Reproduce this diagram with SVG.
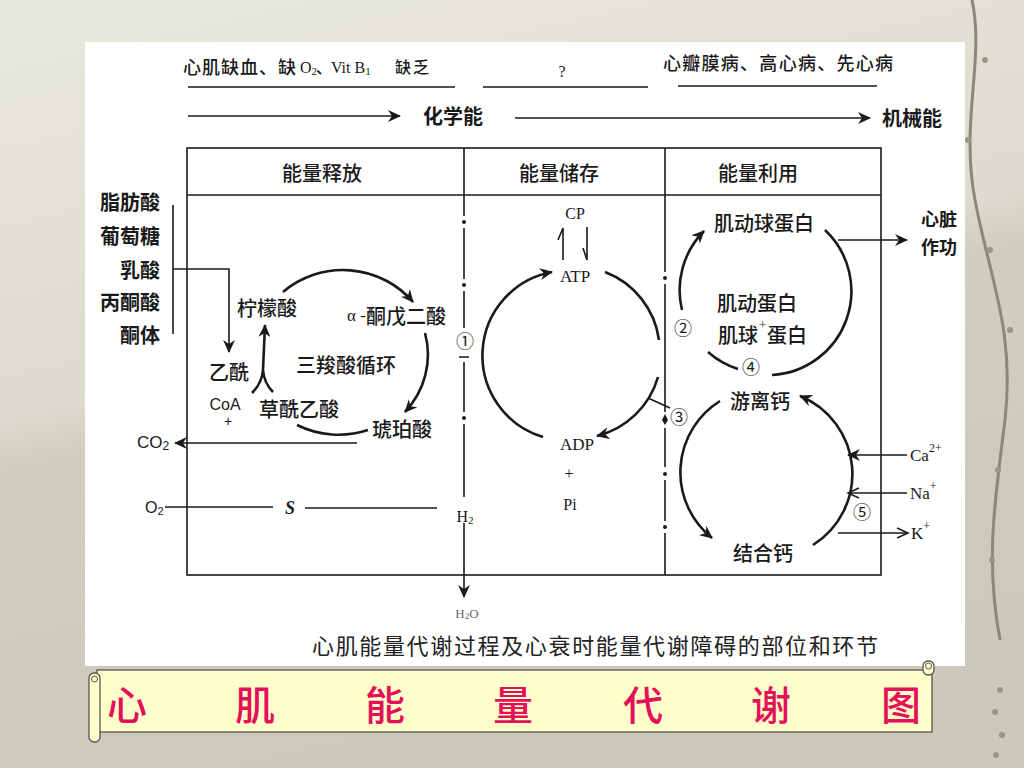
<svg xmlns="http://www.w3.org/2000/svg" width="1024" height="768" viewBox="0 0 1024 768">
<defs>
<style>
.cn{font-family:"Noto Sans CJK SC","Noto Sans",sans-serif;fill:#1a1a1a;dominant-baseline:central;font-weight:500;}
.lat{font-family:"Liberation Serif","Noto Sans CJK SC",serif;fill:#1a1a1a;dominant-baseline:central;}
.sans{font-family:"Liberation Sans","Noto Sans CJK SC",sans-serif;fill:#1a1a1a;dominant-baseline:central;}
.b{font-weight:bold;}
.ln{stroke:#1a1a1a;stroke-width:1.6;fill:none;}
.arc{stroke:#1a1a1a;stroke-width:2.6;fill:none;}
.dd{stroke:#1a1a1a;stroke-width:1.6;fill:none;}
.dot{fill:#1a1a1a;}
.ban{font-family:"Noto Sans CJK SC",sans-serif;fill:#e5105a;font-size:40px;text-anchor:middle;dominant-baseline:central;font-weight:500;}
</style>
<marker id="arr" markerUnits="userSpaceOnUse" markerWidth="14" markerHeight="12" refX="12" refY="6" orient="auto">
<path d="M0,0 L13,6 L0,12 L4,6 Z" fill="#1a1a1a"/>
</marker>
<marker id="opn" markerUnits="userSpaceOnUse" markerWidth="14" markerHeight="12" refX="12" refY="6" orient="auto">
<path d="M1,1 L12,6 L1,11" fill="none" stroke="#1a1a1a" stroke-width="1.5"/>
</marker>
<linearGradient id="bg" x1="0" y1="0" x2="0.3" y2="1">
<stop offset="0" stop-color="#e9e8de"/>
<stop offset="0.5" stop-color="#dddbcf"/>
<stop offset="0.56" stop-color="#d0cec0"/>
<stop offset="1" stop-color="#cbc9bb"/>
</linearGradient>
</defs>

<!-- background -->
<rect x="0" y="0" width="1024" height="768" fill="url(#bg)"/>
<path d="M972,0 C985,60 960,120 975,200 C990,280 1015,330 1005,420 C995,500 985,560 1000,640" fill="none" stroke="#8c8778" stroke-width="3"/>
<g fill="#9a9584">
<circle cx="985" cy="60" r="3"/><circle cx="968" cy="140" r="3"/><circle cx="990" cy="250" r="3"/>
<circle cx="1010" cy="330" r="3"/><circle cx="998" cy="470" r="3"/><circle cx="992" cy="560" r="3"/>
<circle cx="1000" cy="690" r="3"/><circle cx="995" cy="712" r="3"/><circle cx="1002" cy="735" r="3"/><circle cx="996" cy="755" r="3"/>
</g>

<!-- white panel -->
<rect x="85" y="42" width="880" height="624" fill="#ffffff"/>

<!-- frame -->
<g id="frame">
<rect x="187" y="148" width="694" height="427" class="ln" stroke-width="2"/>
<line x1="187" y1="195" x2="881" y2="195" class="ln" stroke-width="2"/>
<line x1="464" y1="148" x2="464" y2="195" class="ln"/>
<line x1="665" y1="148" x2="665" y2="195" class="ln"/>
</g>

<!-- top texts -->
<g id="cause-left">
<text class="cn" x="183" y="66" font-size="18" letter-spacing="1">心肌缺血、缺</text>
<text class="lat" x="300" y="67" font-size="16">O<tspan font-size="11" dy="4">2</tspan></text>
<text class="cn" x="316" y="66" font-size="16">、</text>
<text class="lat" x="331" y="67" font-size="16">Vit B<tspan font-size="11" dy="4">1</tspan></text>
<text class="cn" x="395" y="66" font-size="16" letter-spacing="2">缺乏</text>
</g>
<g id="cause-mid"><text class="lat" x="562" y="71" font-size="16" text-anchor="middle">?</text></g>
<g id="cause-right"><text class="cn" x="663" y="62" font-size="18" textLength="230">心瓣膜病、高心病、先心病</text></g>
<g id="chem"><text class="cn b" x="453" y="115" font-size="20" text-anchor="middle">化学能</text></g>
<g id="mech"><text class="cn b" x="912" y="117" font-size="20" text-anchor="middle">机械能</text></g>

<!-- headers -->
<g id="h1"><text class="cn" x="322" y="172" font-size="20" text-anchor="middle">能量释放</text></g>
<g id="h2"><text class="cn" x="559" y="172" font-size="20" text-anchor="middle">能量储存</text></g>
<g id="h3"><text class="cn" x="758" y="172" font-size="20" text-anchor="middle">能量利用</text></g>

<!-- substrates -->
<g id="substrates">
<text class="cn b" x="160" y="201" font-size="20" text-anchor="end">脂肪酸</text>
<text class="cn b" x="160" y="235" font-size="20" text-anchor="end">葡萄糖</text>
<text class="cn b" x="160" y="269" font-size="20" text-anchor="end">乳酸</text>
<text class="cn b" x="160" y="301" font-size="20" text-anchor="end">丙酮酸</text>
<text class="cn b" x="160" y="334" font-size="20" text-anchor="end">酮体</text>
</g>

<!-- TCA nodes -->
<g id="citrate"><text class="cn" x="267" y="307" font-size="20" text-anchor="middle">柠檬酸</text></g>
<g id="akg"><text class="lat" x="347" y="315" font-size="17">α -</text><text class="cn" x="366" y="315" font-size="20">酮戊二酸</text></g>
<g id="tca"><text class="cn" x="346" y="364" font-size="20" text-anchor="middle">三羧酸循环</text></g>
<g id="acetyl"><text class="cn" x="229" y="371" font-size="20" text-anchor="middle">乙酰</text></g>
<g id="coa"><text class="sans" x="225" y="404" font-size="16" text-anchor="middle">CoA</text><text class="sans" x="228" y="421" font-size="14" text-anchor="middle">+</text></g>
<g id="oaa"><text class="cn" x="299" y="408" font-size="20" text-anchor="middle">草酰乙酸</text></g>
<g id="succ"><text class="cn" x="402" y="428" font-size="20" text-anchor="middle">琥珀酸</text></g>
<g id="co2"><text class="sans" x="137" y="442" font-size="17">CO<tspan font-size="12" dy="4">2</tspan></text></g>
<g id="o2"><text class="sans" x="145" y="507" font-size="16">O<tspan font-size="11" dy="4">2</tspan></text></g>
<g id="s"><text class="lat b" x="290" y="508" font-size="18" font-style="italic" text-anchor="middle">S</text></g>
<g id="h2"><text class="lat" x="465" y="516" font-size="16" text-anchor="middle">H<tspan font-size="11" dy="4">2</tspan></text></g>
<g id="h2o"><text class="lat" x="467" y="613" font-size="13" text-anchor="middle" style="fill:#666">H<tspan font-size="9" dy="3">2</tspan><tspan dy="-3">O</tspan></text></g>
<g id="m1"><text class="lat" x="465" y="342" font-size="18" text-anchor="middle">①</text></g>

<!-- ATP nodes -->
<g id="cp"><text class="lat" x="575" y="213" font-size="16" text-anchor="middle">CP</text></g>
<g id="atp"><text class="lat" x="575" y="276" font-size="17" text-anchor="middle">ATP</text></g>
<g id="adp"><text class="lat" x="577" y="444" font-size="17" text-anchor="middle">ADP</text></g>
<g id="plus"><text class="lat" x="569" y="473" font-size="16" text-anchor="middle">+</text></g>
<g id="pi"><text class="lat" x="570" y="504" font-size="16" text-anchor="middle">Pi</text></g>
<g id="m2"><text class="lat" x="683" y="329" font-size="18" text-anchor="middle">②</text></g>
<g id="m3"><text class="lat" x="679" y="418" font-size="18" text-anchor="middle">③</text></g>

<!-- utilisation nodes -->
<g id="actomyosin"><text class="cn" x="764" y="222" font-size="20" text-anchor="middle">肌动球蛋白</text></g>
<g id="heart"><text class="cn b" x="939" y="218" font-size="18" text-anchor="middle">心脏</text><text class="cn b" x="939" y="246" font-size="18" text-anchor="middle">作功</text></g>
<g id="actin"><text class="cn" x="757" y="302" font-size="20" text-anchor="middle">肌动蛋白</text></g>
<g id="myosin"><text class="cn" x="718" y="334" font-size="20">肌球</text><text class="lat" x="759" y="324" font-size="13">+</text><text class="cn" x="767" y="334" font-size="20">蛋白</text></g>
<g id="m4"><text class="lat" x="751" y="368" font-size="18" text-anchor="middle">④</text></g>
<g id="freeca"><text class="cn" x="760" y="400" font-size="20" text-anchor="middle">游离钙</text></g>
<g id="boundca"><text class="cn" x="763" y="552" font-size="20" text-anchor="middle">结合钙</text></g>
<g id="ca"><text class="lat" x="910" y="455" font-size="17">Ca<tspan font-size="12" dy="-7">2+</tspan></text></g>
<g id="na"><text class="lat" x="910" y="493" font-size="17">Na<tspan font-size="12" dy="-7">+</tspan></text></g>
<g id="k"><text class="lat" x="911" y="533" font-size="17">K<tspan font-size="12" dy="-7">+</tspan></text></g>
<g id="m5"><text class="lat" x="862" y="513" font-size="18" text-anchor="middle">⑤</text></g>

<!-- caption -->
<g id="caption"><text class="cn" x="312" y="644" font-size="22" textLength="566" style="fill:#222;font-weight:normal">心肌能量代谢过程及心衰时能量代谢障碍的部位和环节</text></g>

<!-- connectors -->
<g id="connectors">
<line x1="188" y1="87" x2="455" y2="87" class="ln"/>
<line x1="483" y1="87" x2="648" y2="87" class="ln"/>
<line x1="678" y1="86" x2="877" y2="86" class="ln"/>
<line x1="188" y1="116" x2="400" y2="116" class="ln" marker-end="url(#arr)"/>
<line x1="515" y1="118" x2="870" y2="118" class="ln" marker-end="url(#arr)"/>
<line x1="173" y1="205" x2="173" y2="334" class="ln"/>
<path d="M173,269 H229 V352" class="ln" marker-end="url(#arr)"/>
<path d="M283,292 A90,86 0 0,1 413,302" class="arc" marker-end="url(#arr)"/>
<path d="M425,333 A90,86 0 0,1 405,412" class="arc" marker-end="url(#arr)"/>
<path d="M368,430 A90,86 0 0,1 297,425" class="arc"/>
<path d="M252,393 Q262,383 263,370 M273,392 Q264,383 263,370 L265,325" class="arc" marker-end="url(#arr)"/>
<line x1="357" y1="443" x2="175" y2="443" class="ln" marker-end="url(#arr)"/>
<line x1="165" y1="507" x2="273" y2="507" class="ln"/>
<line x1="305" y1="508" x2="437" y2="508" class="ln"/>
<path d="M464,195 V216 M464,228 V279 M464,291 V328 M459,357 H469 M464,362 V412 M464,424 V497" class="dd"/>
<circle cx="464" cy="222" r="2" class="dot"/><circle cx="464" cy="285" r="2" class="dot"/><circle cx="464" cy="418" r="2" class="dot"/>
<line x1="464" y1="523" x2="464" y2="597" class="ln" marker-end="url(#arr)"/>
<path d="M665,195 V272 M665,284 V412 M665,428 V467 M665,480 V521 M665,533 V575" class="dd"/>
<circle cx="665" cy="278" r="2" class="dot"/><circle cx="665" cy="474" r="2" class="dot"/><circle cx="665" cy="527" r="2" class="dot"/>
<path d="M665,414 L668,420 L665,425 L662,420 Z" class="dot"/>
<path d="M563,260 V228 L558,240" class="ln"/>
<path d="M587,227 V260 L583,248" class="ln"/>
<path d="M543,437 A85,85 0 0,1 552,272" class="arc" marker-end="url(#arr)"/>
<path d="M605,272 A85,85 0 0,1 659,340" class="arc"/>
<path d="M658,377 A85,85 0 0,1 597,436" class="arc" marker-end="url(#arr)"/>
<line x1="648" y1="398" x2="670" y2="408" class="ln"/>
<path d="M682,310 A84,84 0 0,1 704,231" class="arc" marker-end="url(#arr)"/>
<path d="M825,230 A84,84 0 0,1 772,375" class="arc"/>
<path d="M708,352 A84,84 0 0,0 738,369" class="arc"/>
<line x1="838" y1="240" x2="907" y2="240" class="ln" stroke-width="2" marker-end="url(#arr)"/>
<path d="M720,401 A84,84 0 0,0 712,538" class="arc" marker-end="url(#arr)"/>
<path d="M813,545 A84,84 0 0,0 800,396" class="arc" marker-end="url(#arr)"/>
<line x1="907" y1="455" x2="848" y2="455" class="ln" stroke-width="2" marker-end="url(#arr)"/>
<line x1="907" y1="493" x2="848" y2="493" class="ln" marker-end="url(#opn)"/>
<line x1="838" y1="533" x2="908" y2="533" class="ln" marker-end="url(#opn)"/>
</g>

<!-- title banner -->
<g id="banner">
<rect x="97" y="670" width="835" height="62" fill="#ffffcc" stroke="#555" stroke-width="1.3"/>
<rect x="89" y="673" width="11" height="69" rx="5" fill="#ffffcc" stroke="#555" stroke-width="1.3"/>
<circle cx="94.5" cy="679" r="3" fill="none" stroke="#555" stroke-width="1"/>
<rect x="923" y="661" width="11" height="14" rx="5" fill="#ffffcc" stroke="#555" stroke-width="1.3"/>
<circle cx="928.5" cy="666" r="3" fill="none" stroke="#555" stroke-width="1"/>
<text class="ban" x="127" y="703">心</text>
<text class="ban" x="255" y="703">肌</text>
<text class="ban" x="385" y="703">能</text>
<text class="ban" x="513" y="703">量</text>
<text class="ban" x="643" y="703">代</text>
<text class="ban" x="771" y="703">谢</text>
<text class="ban" x="901" y="703">图</text>
</g>
</svg>
